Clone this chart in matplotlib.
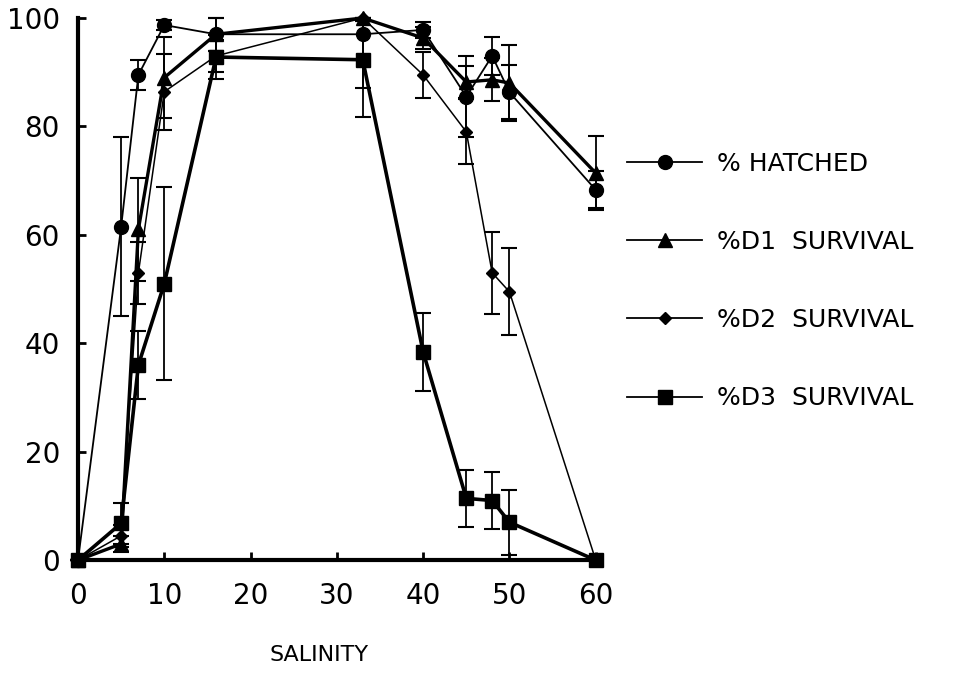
import numpy as np
import matplotlib
matplotlib.use("Agg")
import matplotlib.pyplot as plt

# salinity levels
salinity = [0, 5, 7, 10, 16, 33, 40, 45, 48, 50, 60]

# % hatched (circles)
hatched = [0, 61.5, 89.5, 98.7, 97, 97, 97.8, 85.5, 93, 86.3, 68.3]
hatched_err = [0, 16.5, 2.7, 1.0, 3, 10, 1.5, 7.5, 3.5, 5, 3.4]

# %D1 survival (triangles)
d1 = [0, 3, 61, 89, 97, 100, 96.3, 88.2, 88.6, 88, 71.4]
d1_err = [0, 1.5, 9.5, 7.5, 3, 0.5, 2, 3, 4, 7, 6.8]

# %D2 survival (diamonds)
d2 = [0, 4.5, 53, 86.4, 93, 100, 89.5, 79, 53, 49.5, 0]
d2_err = [0, 2, 5.7, 7, 3, 0.5, 4.3, 6, 7.6, 8, 0]

# %D3 survival (squares)
d3 = [0, 6.8, 36, 51, 92.8, 92.3, 38.4, 11.4, 11, 7, 0]
d3_err = [0, 3.8, 6.3, 17.8, 4, 10.5, 7.2, 5.2, 5.2, 6, 0]

series = [
    (hatched, hatched_err, "o", 10, 1.3, "% HATCHED"),
    (d1, d1_err, "^", 10, 2.4, "%D1  SURVIVAL"),
    (d2, d2_err, "D", 6.5, 1.1, "%D2  SURVIVAL"),
    (d3, d3_err, "s", 10, 2.6, "%D3  SURVIVAL"),
]

plt.rcParams['font.family'] = ['DejaVu Sans']

fig = plt.figure(figsize=(9.57, 6.79), dpi=100)
ax = fig.add_axes([0.0815, 0.175, 0.541, 0.7985])

handles = []
for vals, err, mk, ms, lw, lab in series:
    vals = np.array(vals, dtype=float)
    err = np.array(err, dtype=float)
    # percentages cannot go past 100 or below 0
    upper = np.minimum(err, 100 - vals)
    lower = np.minimum(err, vals)
    ax.errorbar(salinity, vals, yerr=[lower, upper], fmt="none",
                ecolor="black", elinewidth=1.3, capsize=6, capthick=1.5,
                clip_on=False, zorder=2)
    h, = ax.plot(salinity, vals, color="black", marker=mk, markersize=ms,
                 linewidth=lw, clip_on=False, zorder=3, label=lab)
    handles.append(h)

ax.set_xlim(0, 60)
ax.set_ylim(0, 100)
ax.set_xticks([0, 10, 20, 30, 40, 50, 60])
ax.set_yticks([0, 20, 40, 60, 80, 100])
ax.spines["top"].set_visible(False)
ax.spines["right"].set_visible(False)
ax.spines["left"].set_linewidth(3)
ax.spines["bottom"].set_linewidth(3)
ax.tick_params(direction="in", length=6, width=2, labelsize=20)
ax.tick_params(axis="y", pad=13)
ax.tick_params(axis="x", pad=16)

fig.text(0.333, 0.035, "SALINITY", ha="center", va="center", fontsize=16)

leg = fig.legend(handles=handles, loc="upper left",
                 bbox_to_anchor=(0.632, 0.81), frameon=False, fontsize=18,
                 handlelength=3.0, labelspacing=2.17, handletextpad=0.6)
for line in leg.get_lines():
    line.set_linewidth(1.3)

fig.savefig("out.png", dpi=100)
